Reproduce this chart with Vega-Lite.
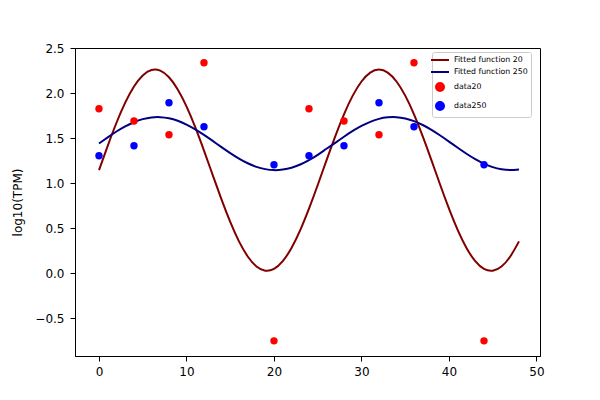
{
  "$schema": "https://vega.github.io/schema/vega-lite/v6.json",
  "width": 465,
  "height": 308,
  "autosize": "none",
  "padding": {"left": 75, "top": 48, "right": 60, "bottom": 44},
  "background": "white",
  "data": {
    "values": [
      {"x": 0, "y": 1.143, "series": "Fitted function 20", "kind": "fit"},
      {"x": 1, "y": 1.414, "series": "Fitted function 20", "kind": "fit"},
      {"x": 2, "y": 1.670, "series": "Fitted function 20", "kind": "fit"},
      {"x": 3, "y": 1.893, "series": "Fitted function 20", "kind": "fit"},
      {"x": 4, "y": 2.072, "series": "Fitted function 20", "kind": "fit"},
      {"x": 5, "y": 2.195, "series": "Fitted function 20", "kind": "fit"},
      {"x": 6, "y": 2.255, "series": "Fitted function 20", "kind": "fit"},
      {"x": 7, "y": 2.248, "series": "Fitted function 20", "kind": "fit"},
      {"x": 8, "y": 2.175, "series": "Fitted function 20", "kind": "fit"},
      {"x": 9, "y": 2.040, "series": "Fitted function 20", "kind": "fit"},
      {"x": 10, "y": 1.852, "series": "Fitted function 20", "kind": "fit"},
      {"x": 11, "y": 1.621, "series": "Fitted function 20", "kind": "fit"},
      {"x": 12, "y": 1.361, "series": "Fitted function 20", "kind": "fit"},
      {"x": 13, "y": 1.088, "series": "Fitted function 20", "kind": "fit"},
      {"x": 14, "y": 0.819, "series": "Fitted function 20", "kind": "fit"},
      {"x": 15, "y": 0.569, "series": "Fitted function 20", "kind": "fit"},
      {"x": 16, "y": 0.353, "series": "Fitted function 20", "kind": "fit"},
      {"x": 17, "y": 0.185, "series": "Fitted function 20", "kind": "fit"},
      {"x": 18, "y": 0.074, "series": "Fitted function 20", "kind": "fit"},
      {"x": 19, "y": 0.027, "series": "Fitted function 20", "kind": "fit"},
      {"x": 20, "y": 0.047, "series": "Fitted function 20", "kind": "fit"},
      {"x": 21, "y": 0.133, "series": "Fitted function 20", "kind": "fit"},
      {"x": 22, "y": 0.280, "series": "Fitted function 20", "kind": "fit"},
      {"x": 23, "y": 0.478, "series": "Fitted function 20", "kind": "fit"},
      {"x": 24, "y": 0.716, "series": "Fitted function 20", "kind": "fit"},
      {"x": 25, "y": 0.979, "series": "Fitted function 20", "kind": "fit"},
      {"x": 26, "y": 1.253, "series": "Fitted function 20", "kind": "fit"},
      {"x": 27, "y": 1.519, "series": "Fitted function 20", "kind": "fit"},
      {"x": 28, "y": 1.764, "series": "Fitted function 20", "kind": "fit"},
      {"x": 29, "y": 1.971, "series": "Fitted function 20", "kind": "fit"},
      {"x": 30, "y": 2.128, "series": "Fitted function 20", "kind": "fit"},
      {"x": 31, "y": 2.227, "series": "Fitted function 20", "kind": "fit"},
      {"x": 32, "y": 2.260, "series": "Fitted function 20", "kind": "fit"},
      {"x": 33, "y": 2.227, "series": "Fitted function 20", "kind": "fit"},
      {"x": 34, "y": 2.128, "series": "Fitted function 20", "kind": "fit"},
      {"x": 35, "y": 1.971, "series": "Fitted function 20", "kind": "fit"},
      {"x": 36, "y": 1.764, "series": "Fitted function 20", "kind": "fit"},
      {"x": 37, "y": 1.519, "series": "Fitted function 20", "kind": "fit"},
      {"x": 38, "y": 1.253, "series": "Fitted function 20", "kind": "fit"},
      {"x": 39, "y": 0.979, "series": "Fitted function 20", "kind": "fit"},
      {"x": 40, "y": 0.716, "series": "Fitted function 20", "kind": "fit"},
      {"x": 41, "y": 0.478, "series": "Fitted function 20", "kind": "fit"},
      {"x": 42, "y": 0.280, "series": "Fitted function 20", "kind": "fit"},
      {"x": 43, "y": 0.133, "series": "Fitted function 20", "kind": "fit"},
      {"x": 44, "y": 0.047, "series": "Fitted function 20", "kind": "fit"},
      {"x": 45, "y": 0.027, "series": "Fitted function 20", "kind": "fit"},
      {"x": 46, "y": 0.074, "series": "Fitted function 20", "kind": "fit"},
      {"x": 47, "y": 0.185, "series": "Fitted function 20", "kind": "fit"},
      {"x": 48, "y": 0.353, "series": "Fitted function 20", "kind": "fit"},

      {"x": 0, "y": 1.440, "series": "Fitted function 250", "kind": "fit"},
      {"x": 1, "y": 1.508, "series": "Fitted function 250", "kind": "fit"},
      {"x": 2, "y": 1.573, "series": "Fitted function 250", "kind": "fit"},
      {"x": 3, "y": 1.630, "series": "Fitted function 250", "kind": "fit"},
      {"x": 4, "y": 1.676, "series": "Fitted function 250", "kind": "fit"},
      {"x": 5, "y": 1.710, "series": "Fitted function 250", "kind": "fit"},
      {"x": 6, "y": 1.729, "series": "Fitted function 250", "kind": "fit"},
      {"x": 7, "y": 1.732, "series": "Fitted function 250", "kind": "fit"},
      {"x": 8, "y": 1.720, "series": "Fitted function 250", "kind": "fit"},
      {"x": 9, "y": 1.692, "series": "Fitted function 250", "kind": "fit"},
      {"x": 10, "y": 1.650, "series": "Fitted function 250", "kind": "fit"},
      {"x": 11, "y": 1.597, "series": "Fitted function 250", "kind": "fit"},
      {"x": 12, "y": 1.535, "series": "Fitted function 250", "kind": "fit"},
      {"x": 13, "y": 1.468, "series": "Fitted function 250", "kind": "fit"},
      {"x": 14, "y": 1.399, "series": "Fitted function 250", "kind": "fit"},
      {"x": 15, "y": 1.333, "series": "Fitted function 250", "kind": "fit"},
      {"x": 16, "y": 1.272, "series": "Fitted function 250", "kind": "fit"},
      {"x": 17, "y": 1.220, "series": "Fitted function 250", "kind": "fit"},
      {"x": 18, "y": 1.180, "series": "Fitted function 250", "kind": "fit"},
      {"x": 19, "y": 1.155, "series": "Fitted function 250", "kind": "fit"},
      {"x": 20, "y": 1.144, "series": "Fitted function 250", "kind": "fit"},
      {"x": 21, "y": 1.150, "series": "Fitted function 250", "kind": "fit"},
      {"x": 22, "y": 1.170, "series": "Fitted function 250", "kind": "fit"},
      {"x": 23, "y": 1.206, "series": "Fitted function 250", "kind": "fit"},
      {"x": 24, "y": 1.255, "series": "Fitted function 250", "kind": "fit"},
      {"x": 25, "y": 1.314, "series": "Fitted function 250", "kind": "fit"},
      {"x": 26, "y": 1.381, "series": "Fitted function 250", "kind": "fit"},
      {"x": 27, "y": 1.447, "series": "Fitted function 250", "kind": "fit"},
      {"x": 28, "y": 1.515, "series": "Fitted function 250", "kind": "fit"},
      {"x": 29, "y": 1.579, "series": "Fitted function 250", "kind": "fit"},
      {"x": 30, "y": 1.635, "series": "Fitted function 250", "kind": "fit"},
      {"x": 31, "y": 1.680, "series": "Fitted function 250", "kind": "fit"},
      {"x": 32, "y": 1.713, "series": "Fitted function 250", "kind": "fit"},
      {"x": 33, "y": 1.730, "series": "Fitted function 250", "kind": "fit"},
      {"x": 34, "y": 1.732, "series": "Fitted function 250", "kind": "fit"},
      {"x": 35, "y": 1.717, "series": "Fitted function 250", "kind": "fit"},
      {"x": 36, "y": 1.688, "series": "Fitted function 250", "kind": "fit"},
      {"x": 37, "y": 1.645, "series": "Fitted function 250", "kind": "fit"},
      {"x": 38, "y": 1.591, "series": "Fitted function 250", "kind": "fit"},
      {"x": 39, "y": 1.528, "series": "Fitted function 250", "kind": "fit"},
      {"x": 40, "y": 1.461, "series": "Fitted function 250", "kind": "fit"},
      {"x": 41, "y": 1.392, "series": "Fitted function 250", "kind": "fit"},
      {"x": 42, "y": 1.326, "series": "Fitted function 250", "kind": "fit"},
      {"x": 43, "y": 1.266, "series": "Fitted function 250", "kind": "fit"},
      {"x": 44, "y": 1.216, "series": "Fitted function 250", "kind": "fit"},
      {"x": 45, "y": 1.177, "series": "Fitted function 250", "kind": "fit"},
      {"x": 46, "y": 1.153, "series": "Fitted function 250", "kind": "fit"},
      {"x": 47, "y": 1.144, "series": "Fitted function 250", "kind": "fit"},
      {"x": 48, "y": 1.151, "series": "Fitted function 250", "kind": "fit"},

      {"x": 0, "y": 1.826, "series": "data20", "kind": "data"},
      {"x": 4, "y": 1.689, "series": "data20", "kind": "data"},
      {"x": 8, "y": 1.537, "series": "data20", "kind": "data"},
      {"x": 12, "y": 2.337, "series": "data20", "kind": "data"},
      {"x": 20, "y": -0.752, "series": "data20", "kind": "data"},
      {"x": 24, "y": 1.826, "series": "data20", "kind": "data"},
      {"x": 28, "y": 1.689, "series": "data20", "kind": "data"},
      {"x": 32, "y": 1.537, "series": "data20", "kind": "data"},
      {"x": 36, "y": 2.337, "series": "data20", "kind": "data"},
      {"x": 44, "y": -0.752, "series": "data20", "kind": "data"},

      {"x": 0, "y": 1.303, "series": "data250", "kind": "data"},
      {"x": 4, "y": 1.414, "series": "data250", "kind": "data"},
      {"x": 8, "y": 1.892, "series": "data250", "kind": "data"},
      {"x": 12, "y": 1.626, "series": "data250", "kind": "data"},
      {"x": 20, "y": 1.203, "series": "data250", "kind": "data"},
      {"x": 24, "y": 1.303, "series": "data250", "kind": "data"},
      {"x": 28, "y": 1.414, "series": "data250", "kind": "data"},
      {"x": 32, "y": 1.892, "series": "data250", "kind": "data"},
      {"x": 36, "y": 1.626, "series": "data250", "kind": "data"},
      {"x": 44, "y": 1.203, "series": "data250", "kind": "data"}
    ]
  },
  "encoding": {
    "x": {
      "field": "x",
      "type": "quantitative",
      "title": null,
      "scale": {"domain": [-2.74, 50.4], "nice": false, "zero": false},
      "axis": {"values": [0, 10, 20, 30, 40, 50], "format": "d", "labelPadding": 5}
    },
    "y": {
      "field": "y",
      "type": "quantitative",
      "title": "log10(TPM)",
      "scale": {"domain": [-0.92, 2.5], "nice": false, "zero": false},
      "axis": {"values": [-0.5, 0, 0.5, 1, 1.5, 2, 2.5], "format": ".1f", "labelPadding": 6, "titlePadding": 10}
    },
    "color": {
      "field": "series",
      "type": "nominal",
      "title": null,
      "scale": {
        "domain": ["Fitted function 20", "Fitted function 250", "data20", "data250"],
        "range": ["#800000", "#000080", "#ff0000", "#0000ff"]
      },
      "legend": {
        "orient": "none",
        "legendX": 357,
        "legendY": 4,
        "padding": 3,
        "cornerRadius": 2,
        "strokeColor": "#cccccc",
        "fillColor": "white",
        "labelFont": "DejaVu Sans",
        "labelFontSize": 7.8,
        "labelColor": "black",
        "labelOffset": 9,
        "rowPadding": 3,
        "symbolSize": 64,
        "symbolOpacity": 1,
        "encode": {
          "symbols": {
            "update": {
              "shape": {"signal": "indexof(datum.value, 'Fitted') === 0 ? 'M-2.25,0L2.25,0' : 'circle'"},
              "size": {"value": 64},
              "strokeWidth": {"value": 2},
              "stroke": {"signal": "datum.value === 'Fitted function 20' ? '#800000' : datum.value === 'Fitted function 250' ? '#000080' : 'transparent'"}
            }
          }
        }
      }
    }
  },
  "layer": [
    {
      "transform": [{"filter": "datum.kind === 'fit'"}],
      "mark": {"type": "line", "strokeWidth": 2, "interpolate": "natural"}
    },
    {
      "transform": [{"filter": "datum.kind === 'data'"}],
      "mark": {"type": "point", "filled": true, "size": 55, "opacity": 1}
    }
  ],
  "config": {
    "font": "DejaVu Sans",
    "view": {"stroke": "black", "strokeWidth": 1},
    "axis": {
      "grid": false,
      "domainColor": "black",
      "tickColor": "black",
      "tickSize": 5,
      "labelFont": "DejaVu Sans",
      "labelFontSize": 12,
      "labelColor": "black",
      "titleFont": "DejaVu Sans",
      "titleFontSize": 12,
      "titleFontWeight": "normal",
      "titleColor": "black"
    }
  }
}
